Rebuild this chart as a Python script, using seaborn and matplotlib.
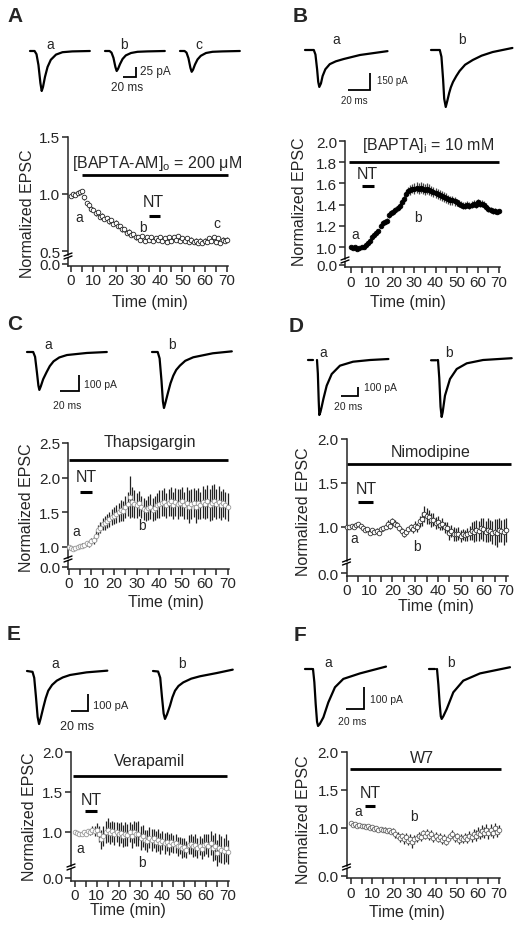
import numpy as np
import matplotlib
matplotlib.use("Agg")
import matplotlib.pyplot as plt
from matplotlib.lines import Line2D
from matplotlib.ticker import MultipleLocator, FixedLocator, FormatStrFormatter
import seaborn as sns

W, H = 521, 928

# Time points (min)
minutes = list(range(71))

# Normalized EPSC (mean, sem), one value per minute
a_mean = [0.98, 1.00, 0.99, 1.01, 1.02, 1.03, 0.97, 0.92, 0.90, 0.87,
          0.86, 0.83, 0.84, 0.80, 0.81, 0.78, 0.79, 0.76, 0.77, 0.74,
          0.75, 0.72, 0.72, 0.69, 0.69, 0.66, 0.67, 0.64, 0.65, 0.62,
          0.62, 0.60, 0.63, 0.59, 0.62, 0.60, 0.62, 0.59, 0.61, 0.60,
          0.62, 0.59, 0.61, 0.58, 0.62, 0.59, 0.62, 0.60, 0.63, 0.59,
          0.61, 0.59, 0.61, 0.58, 0.60, 0.58, 0.59, 0.57, 0.59, 0.57,
          0.59, 0.58, 0.61, 0.59, 0.62, 0.58, 0.61, 0.57, 0.60, 0.59,
          0.60]
a_err = [0.01, 0.01, 0.01, 0.01, 0.01, 0.01, 0.02, 0.02, 0.02, 0.02,
         0.02, 0.02, 0.02, 0.02, 0.02, 0.02, 0.02, 0.02, 0.02, 0.02,
         0.02, 0.02, 0.02, 0.02, 0.02, 0.02, 0.02, 0.02, 0.02, 0.02,
         0.02, 0.02, 0.02, 0.02, 0.02, 0.02, 0.02, 0.02, 0.02, 0.02,
         0.02, 0.02, 0.02, 0.02, 0.02, 0.02, 0.02, 0.02, 0.02, 0.02,
         0.02, 0.02, 0.02, 0.02, 0.02, 0.02, 0.02, 0.02, 0.02, 0.02,
         0.02, 0.02, 0.02, 0.02, 0.02, 0.02, 0.02, 0.02, 0.02, 0.02,
         0.02]

b_mean = [1.00, 0.99, 1.00, 0.98, 0.99, 1.00, 1.00, 1.02, 1.04, 1.06,
          1.09, 1.11, 1.13, 1.15, 1.20, 1.23, 1.24, 1.25, 1.30, 1.32,
          1.33, 1.35, 1.37, 1.39, 1.42, 1.45, 1.50, 1.53, 1.54, 1.55,
          1.55, 1.56, 1.55, 1.56, 1.55, 1.54, 1.55, 1.54, 1.53, 1.52,
          1.51, 1.50, 1.49, 1.48, 1.47, 1.46, 1.45, 1.44, 1.44, 1.43,
          1.42, 1.41, 1.40, 1.39, 1.39, 1.40, 1.39, 1.40, 1.41, 1.40,
          1.42, 1.41, 1.41, 1.40, 1.38, 1.36, 1.35, 1.34, 1.34, 1.33,
          1.34]
b_err = [0.01, 0.01, 0.01, 0.01, 0.01, 0.01, 0.01, 0.01, 0.015, 0.015,
         0.02, 0.02, 0.02, 0.02, 0.025, 0.025, 0.025, 0.025, 0.025, 0.025,
         0.03, 0.03, 0.03, 0.035, 0.035, 0.04, 0.04, 0.04, 0.045, 0.045,
         0.05, 0.05, 0.05, 0.05, 0.05, 0.05, 0.05, 0.05, 0.05, 0.05,
         0.045, 0.045, 0.045, 0.045, 0.045, 0.045, 0.045, 0.045, 0.04, 0.04,
         0.035, 0.035, 0.035, 0.035, 0.035, 0.035, 0.035, 0.035, 0.035, 0.035,
         0.035, 0.035, 0.035, 0.035, 0.035, 0.03, 0.03, 0.025, 0.025, 0.02,
         0.02]

c_mean = [1.00, 0.98, 0.97, 0.99, 1.00, 1.01, 1.02, 1.03, 1.05, 1.04,
          1.08, 1.10, 1.16, 1.24, 1.28, 1.33, 1.35, 1.37, 1.40, 1.43,
          1.45, 1.48, 1.50, 1.53, 1.52, 1.58, 1.62, 1.72, 1.65, 1.62,
          1.60, 1.63, 1.58, 1.55, 1.53, 1.56, 1.58, 1.54, 1.56, 1.60,
          1.62, 1.63, 1.65, 1.60, 1.64, 1.66, 1.60, 1.65, 1.62, 1.64,
          1.66, 1.60, 1.64, 1.58, 1.62, 1.64, 1.58, 1.63, 1.60, 1.65,
          1.62, 1.66, 1.60, 1.64, 1.67, 1.62, 1.65, 1.60, 1.63, 1.60,
          1.58]
c_err = [0.02, 0.02, 0.02, 0.02, 0.03, 0.03, 0.03, 0.03, 0.04, 0.04,
         0.05, 0.06, 0.07, 0.08, 0.08, 0.09, 0.10, 0.10, 0.11, 0.12,
         0.12, 0.13, 0.14, 0.15, 0.15, 0.16, 0.18, 0.30, 0.22, 0.20,
         0.18, 0.18, 0.16, 0.16, 0.15, 0.17, 0.18, 0.16, 0.17, 0.18,
         0.20, 0.19, 0.20, 0.18, 0.20, 0.21, 0.19, 0.20, 0.22, 0.20,
         0.21, 0.20, 0.23, 0.24, 0.22, 0.21, 0.24, 0.22, 0.20, 0.23,
         0.22, 0.24, 0.23, 0.25, 0.24, 0.22, 0.23, 0.21, 0.20, 0.20,
         0.20]

d_mean = [1.00, 0.99, 1.01, 1.00, 1.02, 1.03, 1.01, 0.98, 0.96, 0.97,
          0.93, 0.96, 0.94, 0.95, 0.93, 0.97, 0.98, 1.00, 1.03, 1.01,
          1.06, 1.03, 1.02, 0.98, 0.95, 0.91, 0.94, 0.97, 0.99, 0.97,
          1.01, 0.99, 1.06, 1.09, 1.14, 1.12, 1.11, 1.07, 1.08, 1.04,
          1.05, 1.02, 1.03, 0.99, 0.98, 0.93, 0.95, 0.92, 0.91, 0.92,
          0.89, 0.91, 0.90, 0.91, 0.93, 0.95, 0.94, 0.96, 0.95, 0.98,
          0.97, 0.94, 0.96, 0.95, 0.93, 0.94, 0.93, 0.96, 0.95, 0.94,
          0.96]
d_err = [0.02, 0.02, 0.02, 0.02, 0.02, 0.02, 0.02, 0.02, 0.02, 0.02,
         0.02, 0.02, 0.03, 0.03, 0.02, 0.02, 0.03, 0.03, 0.04, 0.04,
         0.04, 0.04, 0.03, 0.03, 0.03, 0.03, 0.03, 0.03, 0.04, 0.04,
         0.05, 0.05, 0.06, 0.08, 0.09, 0.09, 0.08, 0.08, 0.07, 0.07,
         0.07, 0.06, 0.07, 0.06, 0.07, 0.08, 0.07, 0.08, 0.07, 0.07,
         0.07, 0.06, 0.06, 0.07, 0.08, 0.10, 0.12, 0.12, 0.11, 0.12,
         0.13, 0.12, 0.14, 0.12, 0.13, 0.15, 0.16, 0.14, 0.13, 0.15,
         0.14]

e_mean = [1.00, 0.99, 0.97, 0.98, 1.00, 0.98, 1.01, 1.00, 1.02, 1.01,
          1.03, 0.97, 0.91, 0.95, 1.00, 1.03, 0.99, 1.01, 0.98, 1.00,
          0.97, 0.99, 0.95, 0.98, 0.96, 1.00, 0.95, 1.00, 0.97, 0.98,
          0.92, 0.95, 0.90, 0.89, 0.93, 0.90, 0.92, 0.88, 0.90, 0.86,
          0.89, 0.86, 0.88, 0.84, 0.87, 0.85, 0.86, 0.82, 0.83, 0.80,
          0.81, 0.78, 0.84, 0.85, 0.82, 0.84, 0.80, 0.83, 0.79, 0.84,
          0.85, 0.83, 0.86, 0.80, 0.82, 0.74, 0.80, 0.78, 0.76, 0.80,
          0.75]
e_err = [0.02, 0.02, 0.02, 0.02, 0.03, 0.03, 0.03, 0.04, 0.05, 0.06,
         0.08, 0.10, 0.12, 0.13, 0.14, 0.15, 0.14, 0.13, 0.14, 0.13,
         0.14, 0.13, 0.14, 0.15, 0.14, 0.13, 0.15, 0.14, 0.15, 0.16,
         0.15, 0.14, 0.13, 0.14, 0.13, 0.14, 0.12, 0.13, 0.14, 0.13,
         0.12, 0.13, 0.12, 0.13, 0.12, 0.11, 0.12, 0.12, 0.11, 0.12,
         0.12, 0.11, 0.12, 0.12, 0.13, 0.14, 0.13, 0.12, 0.13, 0.14,
         0.13, 0.14, 0.15, 0.16, 0.17, 0.16, 0.18, 0.17, 0.16, 0.17,
         0.15]

f_mean = [1.06, 1.04, 1.05, 1.03, 1.04, 1.02, 1.03, 1.01, 1.02, 1.00,
          1.01, 0.99, 1.00, 0.98, 0.99, 0.97, 0.98, 0.96, 0.97, 0.95,
          0.96, 0.92, 0.90, 0.87, 0.89, 0.85, 0.88, 0.83, 0.86, 0.81,
          0.85, 0.87, 0.90, 0.88, 0.93, 0.90, 0.94, 0.89, 0.92, 0.87,
          0.90, 0.86, 0.88, 0.84, 0.87, 0.82, 0.86, 0.89, 0.92, 0.87,
          0.89, 0.84, 0.87, 0.85, 0.88, 0.86, 0.90, 0.88, 0.92, 0.90,
          0.94, 0.92, 0.96, 0.94, 0.98, 0.93, 0.97, 0.94, 1.00, 0.95,
          0.98]
f_err = [0.01, 0.01, 0.01, 0.01, 0.01, 0.01, 0.015, 0.015, 0.015, 0.015,
         0.02, 0.02, 0.02, 0.02, 0.02, 0.025, 0.03, 0.03, 0.03, 0.035,
         0.04, 0.045, 0.05, 0.05, 0.05, 0.055, 0.05, 0.06, 0.06, 0.07,
         0.06, 0.05, 0.05, 0.05, 0.05, 0.05, 0.05, 0.05, 0.05, 0.05,
         0.05, 0.05, 0.05, 0.05, 0.05, 0.05, 0.05, 0.05, 0.05, 0.05,
         0.05, 0.05, 0.05, 0.05, 0.05, 0.06, 0.06, 0.06, 0.07, 0.07,
         0.07, 0.07, 0.08, 0.07, 0.07, 0.07, 0.08, 0.07, 0.07, 0.07,
         0.06]

# Example EPSC traces: time (ms) and current (pA)
nan = np.nan
tA = [0, 7, 10, 13, 16, 18, 20, 23, 27, 32, 40, 50, 65, 92]
A_a = [0, 0, -8, -35, -80, -100, -90, -65, -40, -22, -9, -3, -1, 0]
A_b = [0, 0, -4, -17, -40, -50, -45, -33, -20, -11, -5, -2, -1, 0]
A_c = [0, 0, -4, -18, -42, -52, -47, -34, -21, -12, -5, -2, -1, 0]

tB_a = [0, 8, 9.5, 11, 12, 13, 14.5, 16, 18.5, 22.5, 28, 35, 50, 75]
B_a = [0, 0, -40, -170, -280, -326, -295, -230, -170, -125, -100, -80, -44, -10]
tB_b = [0, 8, 9.5, 11, 12, 13.4, 14.8, 16.5, 18, 20, 23, 26, 31, 38, 46, 56, 74]
B_b = [0, 0, -60, -260, -430, -503, -450, -380, -330, -282, -230, -185, -130, -88, -50, -18, 18]

tC_a = [0, 6.5, 8.5, 10.5, 12, 13, 14.5, 17, 20.7, 24, 28, 34, 42, 63, 84]
C_a = [0, 0, -30, -130, -210, -237, -215, -170, -125, -88, -58, -34, -19, -6, 0]
tC_b = [0, 6, 8, 10, 11.5, 12.6, 14, 17, 19.5, 22.4, 25.5, 29.4, 35, 43.4, 64, 84]
C_b = [0, 0, -40, -180, -310, -350, -320, -250, -195, -148, -112, -85, -55, -33, -8, 4]

tD_a = [-10.6, -4.7, nan, 0, 1, 2, 2.7, 4, 5.5, 7.5, 11.4, 17.3, 27, 42.4, 62.4, 84]
D_a = [0, 0, nan, 0, -150, -450, -611, -580, -520, -433, -285, -156, -63, -19, 0, 11]
tD_b = [-8.2, -1.9, nan, 0, 1.5, 3, 4.3, 5.5, 8.2, 14.1, 22, 33.8, 53, 86.7]
D_b = [-3, -3, nan, 0, -200, -520, -633, -580, -396, -211, -100, -37, 0, 20]

tE_a = [0, 6.5, 8.5, 10.5, 12.5, 14.2, 16, 19.3, 22, 25, 29.5, 35, 42, 50.6, 70, 94.5]
E_a = [0, -5, -40, -150, -270, -312, -280, -212, -160, -116, -82, -57, -38, -23.5, -8, 2]
tE_b = [0, 6, 8.5, 10.5, 12.5, 14.1, 16.5, 20, 22.8, 25.9, 30, 35.6, 45, 55.3, 75, 93.8]
E_b = [0, -3, -40, -150, -250, -282, -255, -204, -155, -116, -88, -67, -45, -31, -12, 8]

tF_a = [-8.9, -1.1, nan, 0, 1.5, 3, 4.5, 5.6, 7.5, 11.5, 17, 24.4, 33.7, 52.2, 81.1]
F_a = [0, 0, nan, 0, -60, -160, -240, -259, -250, -220, -152, -83, -45, -20, 11]
tF_b = [-8.9, -2.2, nan, 0, 1.5, 3, 4.2, 5.2, 7, 10.8, 18.1, 29.2, 47.8, 81.1]
F_b = [0, 0, nan, 0, -70, -160, -215, -227, -215, -182, -106, -53, -20, 8]

# Drug and NT application periods (min)
drug_names = ['[BAPTA-AM]$_\\mathregular{o}$ = 200 \u03bcM',
              '[BAPTA]$_\\mathregular{i}$ = 10 mM',
              'Thapsigargin', 'Nimodipine', 'Verapamil', 'W7']
drug_on = [(5, 70.5), (-1, 70), (0, 70), (0, 72), (-1, 69.5), (-0.5, 71)]
nt_on = [(35, 40), (5, 11), (5, 10.5), (5, 11.5), (4.5, 10), (6.5, 11.5)]

sns.set_style('ticks')
plt.rcParams['font.family'] = ['Liberation Sans', 'DejaVu Sans']
plt.rcParams['mathtext.fontset'] = 'custom'
plt.rcParams['mathtext.rm'] = 'Liberation Sans'
plt.rcParams['mathtext.it'] = 'Liberation Sans'

fig = plt.figure(figsize=(W / 100, H / 100), dpi=100)


def rect(x0, y0, x1, y1):
    return [x0 / W, 1 - y1 / H, (x1 - x0) / W, (y1 - y0) / H]


def ftext(x, y, s, **kw):
    kw.setdefault('va', 'center')
    kw.setdefault('ha', 'center')
    fig.text(x / W, 1 - y / H, s, **kw)


def fline(xs, ys, **kw):
    fig.add_artist(Line2D([x / W for x in xs], [1 - y / H for y in ys],
                          transform=fig.transFigure, **kw))


# pixel layout of each panel
panels = [
    dict(letter='A', lp=(15, 17), left=68, right=228, x0=71, x70=227, top=138, ytop=1.5,
         ppu=114, brk=257, zero=264.5, xaxis=266.5, yticks=[0.5, 1.0, 1.5],
         ylab=(28, 214), xlab=(150, 303),
         drug_xy=(38.6, 1.28), drug_y=1.167, nt_xy=(36.8, 0.93), nt_y=0.807,
         marks=[('a', 3.6, 0.80), ('b', 32.3, 0.71), ('c', 65.4, 0.745)]),
    dict(letter='B', lp=(300, 17), left=345, right=500, x0=351, x70=499, top=142, ytop=2.0,
         ppu=106, brk=261, zero=265.5, xaxis=268, yticks=[1.0, 1.2, 1.4, 1.6, 1.8, 2.0],
         ylab=(300, 202), xlab=(408, 302),
         drug_xy=(36.4, 1.965), drug_y=1.80, nt_xy=(7.6, 1.69), nt_y=1.578,
         marks=[('a', 1.9, 1.125), ('b', 31.7, 1.28)]),
    dict(letter='C', lp=(15, 325), left=68, right=229, x0=68.5, x70=227.7, top=444, ytop=2.5,
         ppu=69.3, brk=560, zero=567.5, xaxis=569.5, yticks=[1.0, 1.5, 2.0, 2.5],
         ylab=(27, 508), xlab=(166, 603),
         drug_xy=(35.9, 2.515), drug_y=2.255, nt_xy=(7.8, 2.01), nt_y=1.79,
         marks=[('a', 3.4, 1.23), ('b', 32.4, 1.32)]),
    dict(letter='D', lp=(296, 327), left=346.5, right=508, x0=347, x70=506, top=440, ytop=2.0,
         ppu=87.5, brk=563, zero=574, xaxis=576.5, yticks=[1.0, 1.5, 2.0],
         ylab=(303, 512), xlab=(436, 606),
         drug_xy=(36.7, 1.86), drug_y=1.71, nt_xy=(8.7, 1.43), nt_y=1.28,
         marks=[('a', 3.1, 0.87), ('b', 30.6, 0.78)]),
    dict(letter='E', lp=(14, 635), left=71, right=229, x0=75, x70=228, top=753, ytop=2.0,
         ppu=80, brk=868, zero=879, xaxis=881.5, yticks=[1.0, 1.5, 2.0],
         ylab=(29, 817), xlab=(128, 911),
         drug_xy=(34.3, 1.89), drug_y=1.70, nt_xy=(7.3, 1.41), nt_y=1.26,
         marks=[('a', 2.3, 0.80), ('b', 30.6, 0.625)]),
    dict(letter='F', lp=(300, 636), left=346.5, right=500, x0=351, x70=499, top=753, ytop=2.0,
         ppu=76, brk=868, zero=877, xaxis=879, yticks=[1.0, 1.5, 2.0],
         ylab=(303, 820), xlab=(407, 913),
         drug_xy=(33.6, 1.93), drug_y=1.776, nt_xy=(9.0, 1.47), nt_y=1.29,
         marks=[('a', 3.3, 1.22), ('b', 29.8, 1.16)]),
]

series = [(a_mean, a_err, 'white', '#222222', '#333333'),
          (b_mean, b_err, 'black', 'black', '#444444'),
          (c_mean, c_err, 'white', '#9a9a9a', '#222222'),
          (d_mean, d_err, 'white', '#333333', '#222222'),
          (e_mean, e_err, 'white', '#9a9a9a', '#222222'),
          (f_mean, f_err, 'white', '#666666', '#222222')]

# trace boxes: rect px, baseline px, ms per px, pA per px, scale bar corner, pA bar,
# traces (start px, t, I), labels, scale texts
traces = [
    dict(box=(0, 35, 260, 100), base=52, ms=20 / 13, pa=25 / 10, sb=(136, 78), amp=25,
         tr=[(30, tA, A_a), (105, tA, A_b), (180, tA, A_c)],
         lab=[('a', 50, 45), ('b', 124, 45), ('c', 199, 45)],
         st=[('25 pA', 140, 72, 8.5), ('20 ms', 111, 88, 8.5)]),
    dict(box=(260, 35, 521, 115), base=51, ms=20 / 22, pa=150 / 17, sb=(370, 91), amp=150,
         tr=[(305, tB_a, B_a), (431, tB_b, B_b)],
         lab=[('a', 336, 40), ('b', 462, 40)],
         st=[('150 pA', 377, 81, 7), ('20 ms', 341, 101, 7)]),
    dict(box=(0, 340, 260, 415), base=353, ms=20 / 19, pa=100 / 16, sb=(79, 392), amp=100,
         tr=[(27, tC_a, C_a), (152, tC_b, C_b)],
         lab=[('a', 48, 345), ('b', 172, 345)],
         st=[('100 pA', 84, 385, 7.5), ('20 ms', 53, 406, 7.5)]),
    dict(box=(260, 345, 521, 425), base=361, ms=20 / 17, pa=100 / 9, sb=(358, 397), amp=100,
         tr=[(317, tD_a, D_a), (438, tD_b, D_b)],
         lab=[('a', 323, 353), ('b', 449, 353)],
         st=[('100 pA', 364, 388, 7.5), ('20 ms', 334, 407, 7.5)]),
    dict(box=(0, 655, 260, 735), base=672, ms=20 / 17, pa=100 / 17, sb=(88, 712), amp=100,
         tr=[(27, tE_a, E_a), (153, tE_b, E_b)],
         lab=[('a', 55, 664), ('b', 182, 664)],
         st=[('100 pA', 93, 706, 8), ('20 ms', 60, 727, 9)]),
    dict(box=(260, 655, 521, 735), base=670, ms=20 / 18, pa=100 / 22, sb=(364, 710), amp=100,
         tr=[(313, tF_a, F_a), (437, tF_b, F_b)],
         lab=[('a', 328, 663), ('b', 451, 663)],
         st=[('100 pA', 370, 700, 7.5), ('20 ms', 338, 722, 7.5)]),
]

FS = 11.5   # axis labels and drug names
TS = 11     # tick labels

for i, p in enumerate(panels):
    mean, err, face, edge, ecol = series[i]
    ppm = (p['x70'] - p['x0']) / 70
    xlim = ((p['left'] - p['x0']) / ppm, (p['right'] - p['x0']) / ppm)
    ub = p['brk'] - 1.5
    lt = p['brk'] + 1.5

    # upper part of the broken axis
    ax = fig.add_axes(rect(p['left'], p['top'], p['right'], ub))
    ax.set_xlim(xlim)
    ax.set_ylim(p['ytop'] - (ub - p['top']) / p['ppu'], p['ytop'])
    sns.despine(ax=ax, bottom=True)
    ax.tick_params(axis='x', bottom=False, labelbottom=False)
    ax.yaxis.set_major_locator(FixedLocator(p['yticks']))
    ax.yaxis.set_major_formatter(FormatStrFormatter('%.1f'))
    ax.tick_params(axis='y', length=4, width=1.1, labelsize=TS, pad=1.5)
    ax.spines['left'].set_linewidth(1.1)
    ax.patch.set_alpha(0)

    eb = ax.errorbar(minutes, mean, yerr=err, fmt='none', ecolor=ecol,
                     elinewidth=0.9, capsize=0)
    for coll in eb.lines[2]:
        coll.set_clip_on(False)
    sns.scatterplot(x=minutes, y=mean, ax=ax, s=11, color=face, edgecolor=edge,
                    linewidth=0.6, zorder=3, clip_on=False, legend=False)

    # drug and NT bars
    ax.plot(drug_on[i], [p['drug_y']] * 2, color='k', lw=2.0, clip_on=False,
            solid_capstyle='butt')
    ax.text(*p['drug_xy'], drug_names[i], ha='center', va='center', fontsize=FS)
    ax.plot(nt_on[i], [p['nt_y']] * 2, color='k', lw=2.2, clip_on=False,
            solid_capstyle='butt')
    ax.text(*p['nt_xy'], 'NT', ha='center', va='center', fontsize=FS)
    for s, x, y in p['marks']:
        ax.text(x, y, s, ha='center', va='center', fontsize=10)

    # lower part with the 0.0 tick and the time axis
    lo = fig.add_axes(rect(p['left'], lt, p['right'], p['xaxis']))
    lo.set_xlim(xlim)
    lo.set_ylim(-(p['xaxis'] - p['zero']), p['zero'] - lt)
    sns.despine(ax=lo)
    lo.patch.set_alpha(0)
    lo.set_yticks([0])
    lo.set_yticklabels(['0.0'])
    lo.xaxis.set_major_locator(MultipleLocator(10))
    lo.xaxis.set_minor_locator(MultipleLocator(5))
    lo.tick_params(axis='both', which='both', length=4, width=1.1, labelsize=TS, pad=1.5)
    for sp in ('left', 'bottom'):
        lo.spines[sp].set_linewidth(1.1)

    # break marks on the y axis
    for yb in (ub, lt):
        fline([p['left'] - 4, p['left'] + 4], [yb + 1.5, yb - 1.5], color='k', lw=1.0)

    ftext(*p['ylab'], 'Normalized EPSC', rotation=90, fontsize=FS)
    ftext(*p['xlab'], 'Time (min)', fontsize=FS)
    ftext(*p['lp'], p['letter'], fontsize=15, fontweight='bold')

    # example traces and scale bar
    t = traces[i]
    x0, y0, x1, y1 = t['box']
    tax = fig.add_axes(rect(x0, y0, x1, y1))
    tax.set_axis_off()
    tax.set_xlim(0, (x1 - x0) * t['ms'])
    tax.set_ylim(-(y1 - t['base']) * t['pa'], (t['base'] - y0) * t['pa'])
    for start, tt, cur in t['tr']:
        tax.plot(np.array(tt) + (start - x0) * t['ms'], cur, color='k', lw=1.6,
                 clip_on=False, solid_joinstyle='round')
    cx = (t['sb'][0] - x0) * t['ms']
    cy = -(t['sb'][1] - t['base']) * t['pa']
    tax.plot([cx - 20, cx, cx], [cy, cy, cy + t['amp']], color='k', lw=1.3,
             clip_on=False, solid_joinstyle='miter', solid_capstyle='butt')
    for s, x, y in t['lab']:
        ftext(x, y, s, fontsize=10)
    for s, x, y, fs in t['st']:
        ftext(x, y, s, fontsize=fs, ha='left')

fig.savefig('out.png', dpi=100)
